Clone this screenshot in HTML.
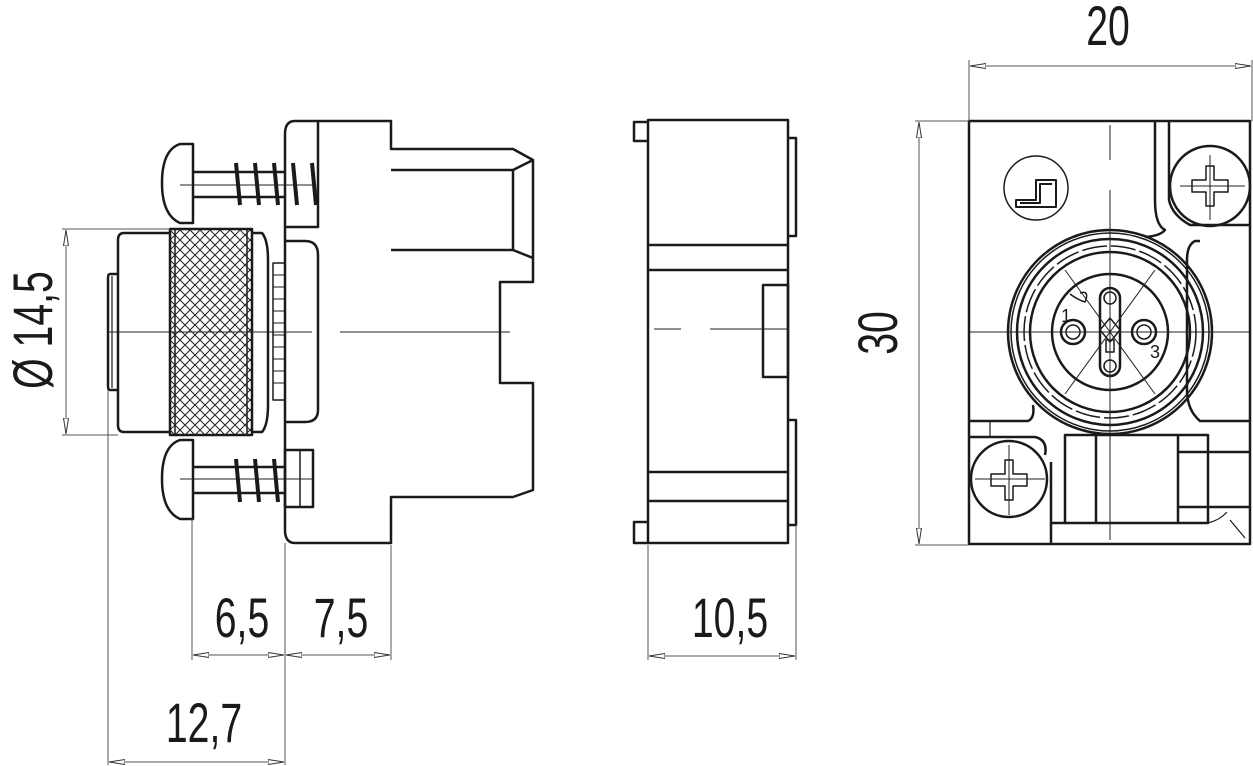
<!DOCTYPE html>
<html><head><meta charset="utf-8"><style>
html,body{margin:0;padding:0;background:#fff;}
svg{display:block;}
text{font-family:"Liberation Sans",sans-serif;fill:#1a1a1a;}
</style></head><body>
<svg width="1253" height="766" viewBox="0 0 1253 766" xmlns="http://www.w3.org/2000/svg">
<defs>
<pattern id="kn" width="10" height="10" patternUnits="userSpaceOnUse">
<path d="M0 0L10 10M10 0L0 10" stroke="#222" stroke-width="1"/>
</pattern>
<marker id="ar" viewBox="0 0 16 8" refX="16" refY="4" markerWidth="16" markerHeight="8" orient="auto-start-reverse" markerUnits="userSpaceOnUse">
<path d="M0 1.5L16 4L0 6.5Z" fill="#fff" stroke="#333" stroke-width="1"/>
</marker>
</defs>
<g fill="none" stroke="#1a1a1a" stroke-width="2.5" stroke-linejoin="round">
<path d="M295 121H391V149H513L533 160V282H500V383H533V490L513 497H391V543H295Q285 543 285 530V134Q285 121 295 121Z"/>
<path d="M391 170H513V250H391M513 170L533 160M513 250L533 258"/>
<path d="M318 121V227H285"/>
<path d="M285 241H305Q318 241 318 255V410Q318 422 305 422H285"/>
<rect x="273" y="263" width="12" height="137" stroke-width="1.5"/>
<g stroke-width="1">
<path d="M273 275H285M273 287H285M273 299H285M273 311H285M273 323H285M273 335H285M273 347H285M273 359H285M273 371H285M273 383H285"/>
</g>
<rect x="170" y="229" width="82" height="206" fill="url(#kn)"/>
<path d="M175 229V435M247 229V435" stroke-width="1.5"/>
<path d="M170 233H124Q118 233 118 240V425Q118 432 124 432H170"/>
<path d="M252 233H262Q268 240 268 260V405Q268 425 262 432H252"/>
<path d="M118 274H110Q108 274 108 278V386Q108 390 110 390H118"/>
<path d="M112 276V388" stroke-width="1.2"/>
<path d="M193 144H180Q162 150 162 183Q162 215 180 223H193Z"/>
<path d="M193 172H285M193 197H285"/>
<path d="M236 163L240 205M255 163L259 205M274 163L278 205M293 163L297 205M312 163L316 205" stroke-width="4"/>
<path d="M193 440H180Q162 446 162 479Q162 511 180 519H193Z"/>
<path d="M193 467H285M193 493H285"/>
<path d="M236 459L240 502M255 459L259 502M274 459L278 502" stroke-width="4"/>
<rect x="285" y="450" width="28" height="57"/>
<path d="M300 450V507" stroke-width="1.5"/>
<rect x="648" y="120" width="140" height="423"/>
<path d="M648 122H634V141H648M648 522H634V543H648"/>
<path d="M788 138H796V236H788M788 420H796V525H788"/>
<path d="M648 245H788M648 270H788M648 472H788M648 501H788"/>
<rect x="763" y="285" width="25" height="92"/>
<rect x="969" y="121" width="281" height="423"/>
<circle cx="1036" cy="188" r="32" stroke-width="1.5"/>
<path d="M1016 207V200H1036V180H1056V207Z M1020 203H1040V184H1052" stroke-width="2"/>
<path d="M1155 121V200Q1155 225 1165 230Q1160 236 1145 237" />
<path d="M1169 121V200Q1172 215 1190 225H1250M1200 241H1195Q1187 245 1187 260V390Q1187 410 1200 421H1250"/>
<circle cx="1210" cy="186" r="40"/>
<circle cx="1110" cy="332" r="102"/>
<circle cx="1110" cy="332" r="99" stroke-width="1.5"/>
<circle cx="1110" cy="332" r="93"/>
<circle cx="1110" cy="332" r="86" stroke-width="1.5" stroke-dasharray="25 4"/>
<circle cx="1110" cy="332" r="80"/>
<circle cx="1110" cy="332" r="58"/>
<path d="M969 421H1028Q1035 418 1033 405M969 437H1035Q1048 440 1045 455"/>
<path d="M990 421V437" stroke-width="1.2"/>
<circle cx="1009" cy="479" r="38"/>
<path d="M1051 462V543"/>
<rect x="1065" y="435" width="143" height="88"/>
<path d="M1096 435V523M1178 435V523M1178 452H1250M1178 507H1250M1051 523H1065"/>
<path d="M1208 523Q1220 520 1227 512M1230 520L1245 538" stroke-width="1.2"/>
<circle cx="1073" cy="332" r="12"/>
<circle cx="1073" cy="332" r="7" stroke-width="1.5"/>
<circle cx="1144" cy="332" r="12"/>
<circle cx="1144" cy="332" r="7" stroke-width="1.5"/>
<rect x="1100" y="288" width="20" height="88" rx="10"/>
<circle cx="1110" cy="298" r="6" stroke-width="1.5"/>
<circle cx="1110" cy="366" r="6" stroke-width="1.5"/>
<path d="M1100 330L1110 318L1120 330L1110 342Z" stroke-width="1.5"/>
<rect x="1106" y="340" width="8" height="12" stroke-width="1.5"/>
<path d="M1080 293Q1090 290 1085 302Q1078 300 1070 294" stroke-width="1.5"/>
<g stroke-width="1.5">
<path d="M1206 166H1214V180H1228V192H1214V206H1206V192H1192V180H1206Z"/>
<path d="M1005 460H1013V474H1027V486H1013V500H1005V486H991V474H1005Z"/>
</g>
</g>
<g stroke="#222" stroke-width="1" fill="none">
<path d="M108 332H312M340 332H510"/>
<path d="M654 329H681M710 329H788"/>
<path d="M180 185H312M180 479H312"/>
<path d="M969 332H1250M1110 125V160M1110 190V540"/>
<path d="M1065 270L1155 394M1155 270L1065 394"/>
<path d="M1180 186H1245M1210 155V220M975 479H1045M1009 445V515"/>
</g>
<g stroke="#555" stroke-width="1" fill="none">
<path d="M62 229H170M62 435H118"/>
<path d="M66 230V434" marker-start="url(#ar)" marker-end="url(#ar)"/>
<path d="M192 519V660M285 543V765M391 545V660M108 390V765"/>
<path d="M193 655H284" marker-start="url(#ar)" marker-end="url(#ar)"/>
<path d="M286 655H390" marker-start="url(#ar)" marker-end="url(#ar)"/>
<path d="M109 762H284" marker-start="url(#ar)" marker-end="url(#ar)"/>
<path d="M648 545V660M796 525V660"/>
<path d="M649 656H795" marker-start="url(#ar)" marker-end="url(#ar)"/>
<path d="M969 60V121M1252 60V121"/>
<path d="M970 66H1251" marker-start="url(#ar)" marker-end="url(#ar)"/>
<path d="M915 121H969M915 545H969"/>
<path d="M919 122V544" marker-start="url(#ar)" marker-end="url(#ar)"/>
</g>
<g font-size="56">
<text transform="translate(242 637) scale(0.7 1)" text-anchor="middle">6,5</text>
<text transform="translate(341 637) scale(0.7 1)" text-anchor="middle">7,5</text>
<text transform="translate(204 742) scale(0.7 1)" text-anchor="middle">12,7</text>
<text transform="translate(730 637) scale(0.7 1)" text-anchor="middle">10,5</text>
<text transform="translate(1108 45) scale(0.7 1)" text-anchor="middle">20</text>
<text transform="translate(897 333) rotate(-90) scale(0.7 1)" text-anchor="middle">30</text>
<text transform="translate(52 330) rotate(-90) scale(0.7 1)" text-anchor="middle">Ø 14,5</text>
</g>
<text x="1061" y="322" font-size="18">1</text>
<text x="1150" y="358" font-size="18">3</text>
</svg>
</body></html>
